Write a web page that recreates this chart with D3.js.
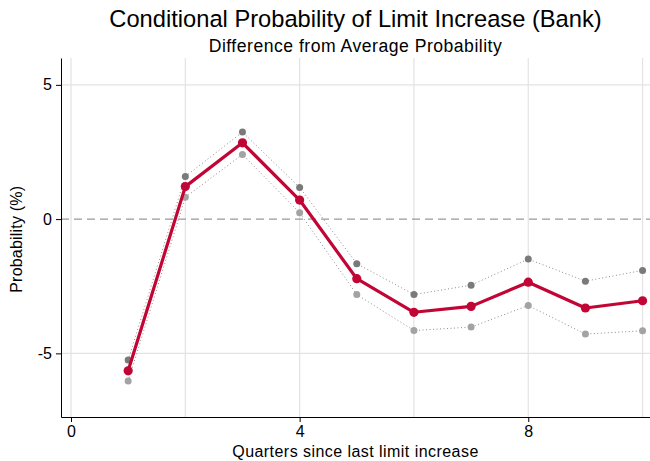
<!DOCTYPE html>
<html>
<head>
<meta charset="utf-8">
<script src="https://cdn.jsdelivr.net/npm/d3@7"></script>
<style>
  body { margin: 0; background: #fff; }
  text { font-family: "Liberation Sans", Arial, Helvetica, sans-serif; fill: #000; }
</style>
</head>
<body>
<div id="chart"></div>
<script>
// quarters since last limit increase
const quarters = [1, 2, 3, 4, 5, 6, 7, 8, 9, 10];
// point estimate (difference from average, %)
const estimate = [-5.65, 1.21, 2.84, 0.71, -2.22, -3.47, -3.25, -2.35, -3.31, -3.04];
// upper and lower confidence bounds
const upperCI = [-5.25, 1.59, 3.24, 1.18, -1.66, -2.81, -2.46, -1.49, -2.31, -1.91];
const lowerCI = [-6.03, 0.81, 2.41, 0.24, -2.81, -4.15, -4.02, -3.22, -4.28, -4.16];
const xTicks = [0, 4, 8];
const xGrid = [0, 2, 4, 6, 8, 10];
const yTicks = [-5, 0, 5];

const width = 650, height = 461;
const margin = { top: 58, right: 0, bottom: 44, left: 61 };

const svg = d3.select("#chart").append("svg")
    .attr("width", width)
    .attr("height", height);

const x = d3.scaleLinear()
    .domain([-0.175, 10.13])
    .range([margin.left, width - margin.right]);

const y = d3.scaleLinear()
    .domain([-7.37, 6.0])
    .range([height - margin.bottom, margin.top]);

// grid lines
svg.append("g")
    .selectAll("line")
    .data(xGrid)
    .join("line")
    .attr("x1", d => x(d)).attr("x2", d => x(d))
    .attr("y1", y.range()[0]).attr("y2", y.range()[1])
    .attr("stroke", "#e3e3e3")
    .attr("stroke-width", 1.2);

svg.append("g")
    .selectAll("line")
    .data(yTicks.filter(d => d !== 0))
    .join("line")
    .attr("x1", x.range()[0]).attr("x2", x.range()[1])
    .attr("y1", d => y(d)).attr("y2", d => y(d))
    .attr("stroke", "#e3e3e3")
    .attr("stroke-width", 1.2);

// zero reference line
svg.append("line")
    .attr("x1", x.range()[0]).attr("x2", x.range()[1])
    .attr("y1", y(0)).attr("y2", y(0))
    .attr("stroke", "#999")
    .attr("stroke-width", 1.3)
    .attr("stroke-dasharray", "8,5");

// axes
const fmt = d => String(d); // plain hyphen for negatives, as in the original
const xAxis = svg.append("g")
    .attr("transform", `translate(0,${y.range()[0]})`)
    .call(d3.axisBottom(x).tickValues(xTicks).tickFormat(fmt).tickSize(5).tickSizeOuter(0).tickPadding(4));
const yAxis = svg.append("g")
    .attr("transform", `translate(${x.range()[0]},0)`)
    .call(d3.axisLeft(y).tickValues(yTicks).tickFormat(fmt).tickSize(5).tickSizeOuter(0).tickPadding(4));

[xAxis, yAxis].forEach(g => {
    g.select(".domain").attr("stroke", "#000").attr("stroke-width", 1);
    g.selectAll(".tick line").attr("stroke", "#000");
    g.selectAll(".tick text").attr("font-size", 16).attr("fill", "#000")
        .style("font-family", "'Liberation Sans', Arial, sans-serif");
});

const data = quarters.map((q, i) => ({ q, est: estimate[i], up: upperCI[i], lo: lowerCI[i] }));

const line = key => d3.line().x(d => x(d.q)).y(d => y(d[key]));

// confidence bounds
const bounds = [
    { key: "up", color: "#7a7a7a" },
    { key: "lo", color: "#a3a3a3" }
];
bounds.forEach(b => {
    svg.append("path")
        .datum(data)
        .attr("d", line(b.key))
        .attr("fill", "none")
        .attr("stroke", "#8c8c8c")
        .attr("stroke-width", 1)
        .attr("stroke-dasharray", "1,2.5");
    svg.append("g")
        .selectAll("circle")
        .data(data)
        .join("circle")
        .attr("cx", d => x(d.q))
        .attr("cy", d => y(d[b.key]))
        .attr("r", 3.5)
        .attr("fill", b.color);
});

// point estimate
svg.append("path")
    .datum(data)
    .attr("d", line("est"))
    .attr("fill", "none")
    .attr("stroke", "#c10534")
    .attr("stroke-width", 3.2)
    .attr("stroke-linejoin", "round");

svg.append("g")
    .selectAll("circle")
    .data(data)
    .join("circle")
    .attr("cx", d => x(d.q))
    .attr("cy", d => y(d.est))
    .attr("r", 4.6)
    .attr("fill", "#c10534");

// titles
const cx = (x.range()[0] + x.range()[1]) / 2;
svg.append("text")
    .attr("x", cx).attr("y", 27)
    .attr("text-anchor", "middle")
    .attr("font-size", 23.7)
    .text("Conditional Probability of Limit Increase (Bank)");
svg.append("text")
    .attr("x", cx).attr("y", 52)
    .attr("text-anchor", "middle")
    .attr("font-size", 17.6)
    .attr("letter-spacing", 0.5)
    .text("Difference from Average Probability");

svg.append("text")
    .attr("x", cx).attr("y", 457)
    .attr("text-anchor", "middle")
    .attr("font-size", 16)
    .attr("letter-spacing", 0.45)
    .text("Quarters since last limit increase");

svg.append("text")
    .attr("transform", `translate(22,${y(-0.75)}) rotate(-90)`)
    .attr("text-anchor", "middle")
    .attr("font-size", 16)
    .attr("letter-spacing", 0.2)
    .text("Probability (%)");
</script>
</body>
</html>
